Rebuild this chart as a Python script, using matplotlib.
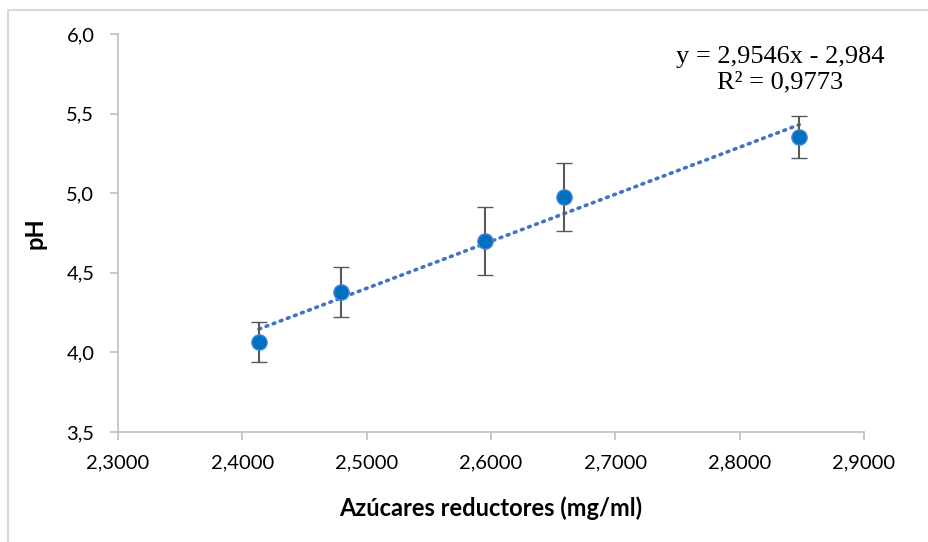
import numpy as np
import matplotlib
matplotlib.use('Agg')
import matplotlib.pyplot as plt
from matplotlib.lines import Line2D
from matplotlib.ticker import FuncFormatter

# datos
azucares = [2.4134, 2.4794, 2.5953, 2.6590, 2.8479]
ph = [4.065, 4.379, 4.702, 4.976, 5.355]
error_ph = [0.126, 0.157, 0.214, 0.215, 0.133]
pendiente = 2.9546
ordenada = -2.984
ecuacion = 'y = 2,9546x - 2,984\nR² = 0,9773'

fig = plt.figure(figsize=(9.29, 5.42), dpi=100)
ax = fig.add_axes([118/929, 1 - 432/542, (864-118)/929, (432-34)/542])

# marco exterior (solo se ve arriba y a la izquierda)
fig.lines.append(Line2D([8/929, 8/929, 1], [0, 1 - 10/542, 1 - 10/542],
                        transform=fig.transFigure, color='#D9D9D9', linewidth=1.5))

# linea de tendencia
xt = np.array([azucares[0], azucares[-1]])
ax.plot(xt, pendiente * xt + ordenada, color='#4472C4', linestyle=(0, (0.5, 1.6)),
        linewidth=2.6, dash_capstyle='round', zorder=2)

ax.errorbar(azucares, ph, yerr=error_ph, fmt='o', color='#0070C0',
            markersize=11, markeredgecolor='#4A86D8', markeredgewidth=1,
            ecolor='#595959', elinewidth=1.5, capsize=6, capthick=1.5, zorder=3)

ax.set_xlim(2.3, 2.9)
ax.set_ylim(3.5, 6.0)
ax.set_xticks(np.arange(2.3, 2.91, 0.1))
ax.set_yticks(np.arange(3.5, 6.01, 0.5))
ax.xaxis.set_major_formatter(FuncFormatter(lambda v, p: ('%.4f' % v).replace('.', ',')))
ax.yaxis.set_major_formatter(FuncFormatter(lambda v, p: ('%.1f' % v).replace('.', ',')))

for s in ['top', 'right']:
    ax.spines[s].set_visible(False)
for s in ['left', 'bottom']:
    ax.spines[s].set_color('#BFBFBF')
    ax.spines[s].set_linewidth(1.2)
ax.tick_params(colors='#BFBFBF', labelcolor='#000000', length=6, width=1.2,
               labelsize=14.5)
ax.tick_params(axis='y', pad=11)
ax.tick_params(axis='x', pad=10)
for lab in ax.get_xticklabels() + ax.get_yticklabels():
    lab.set_family('Lato')

ax.set_xlabel('Azúcares reductores (mg/ml)', fontsize=17, fontweight='bold',
              family='Lato', labelpad=18)
ax.set_ylabel('pH', fontsize=17, fontweight='bold', family='Lato', labelpad=14)

ax.text(780, 542 - 70, ecuacion, transform=None, ha='center', va='center',
        family='Liberation Serif', fontsize=19, linespacing=1.22)

fig.savefig('out.png', dpi=100)
